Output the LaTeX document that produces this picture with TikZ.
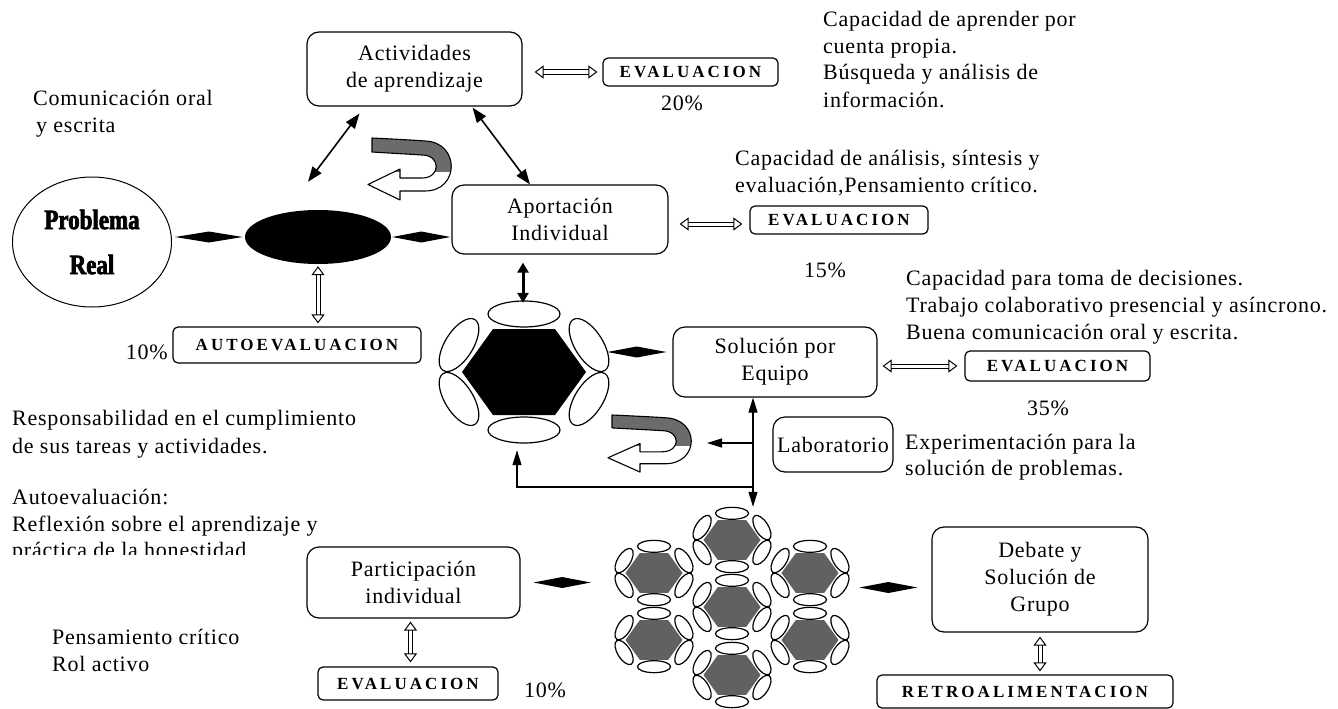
\documentclass[tikz,border=0pt]{standalone}
\usepackage{fontspec}
\setmainfont{Liberation Serif}[LetterSpace=3.5]
\newfontfamily\evalfam[LetterSpace=18]{Liberation Serif}
\newfontfamily\heavyfam[UprightFont={* Bold},FakeBold=2.5,FakeStretch=0.82]{Liberation Serif}
\usetikzlibrary{shapes.geometric,arrows.meta,calc}

\newcommand\txtfont{\fontsize{22}{27}\selectfont}
\newcommand\evfont{\evalfam\bfseries\fontsize{17}{20}\selectfont}
% outline of the curved U-turn arrow, local units, y pointing down
\newcommand\uturnpath{(0,0) .. controls (20,1) and (40,2) .. (53,3) .. controls (88,4) and (88,53) .. (53,53) -- (28,53) -- (28,62) -- (-4,46.5) -- (28,31) -- (28,40) -- (50,40) .. controls (69,40) and (69,17) .. (50,17) .. controls (35,16) and (15,15) .. (0,14) -- cycle}
% filled spindle joining two points on one horizontal line
\newcommand\diam[2]{\path #1 coordinate (dA) #2 coordinate (dB);
  \fill (dA) -- ($(dA)!.5!(dB)+(0,-5.5)$) -- (dB) -- ($(dA)!.5!(dB)+(0,5.5)$) -- cycle;}

\tikzset{
  team/.pic={
    \fill[#1] (-62,0) -- (-31,-43) -- (31,-43) -- (62,0) -- (31,43) -- (-31,43) -- cycle;
    \foreach \x/\y/\a/\rx/\ry in {0/-58/0/36/13, 0/58/0/36/13, -65/-27/58/30/14, 65/-27/-58/30/14, -65/27/-58/30/14, 65/27/58/30/14}
      \draw[line width=1.2pt, fill=white, rotate around={\a:(\x,\y)}] (\x,\y) ellipse [x radius=\rx, y radius=\ry];
  },
  uturn/.pic={
    \fill[white] \uturnpath;
    \begin{scope}
      \clip (-10,-10) rectangle (100,33);
      \fill[black!58] \uturnpath;
    \end{scope}
    \draw[line width=1.1pt, line join=round] \uturnpath;
  }
}

\begin{document}
\begin{tikzpicture}[x=1pt, y=-1pt,
  box/.style={draw, line width=1.2pt, rounded corners=12pt, align=center, inner sep=0pt, font=\txtfont},
  ebox/.style={draw, line width=1.2pt, rounded corners=5pt, inner sep=0pt, font=\evfont},
  note/.style={anchor=base west, inner sep=0pt, font=\txtfont},
  pct/.style={inner sep=0pt, font=\txtfont},
  spot/.style={inner sep=0pt},
  link/.style={line width=1.6pt, {Triangle[length=15pt,width=11pt]}-{Triangle[length=15pt,width=11pt]}},
  hollow/.style={double, double distance=3pt, line width=1pt, {Triangle[open,length=9pt,width=13pt]}-{Triangle[open,length=9pt,width=13pt]}},
  feed/.style={line width=1.2pt, -{Triangle[length=15pt,width=9pt]}}
]
\fill[white] (0,0) rectangle (1338,709);
\useasboundingbox (0,0) rectangle (1338,709);

% ---- main nodes ----
\node[ellipse, draw, line width=1pt, minimum width=159pt, minimum height=130pt, inner sep=0pt, align=center,
      font=\heavyfam\fontsize{28}{45}\selectfont] (pr) at (92,242) {Problema\\Real};
\node[ellipse, fill=black, minimum width=146pt, minimum height=54pt, inner sep=0pt] (alu) at (318,237) {};
\node[box, minimum width=215pt, minimum height=74pt] (act) at (414.5,69) {Actividades\\de aprendizaje};
\node[box, minimum width=216pt, minimum height=69pt] (apo) at (560,219.5) {Aportación\\Individual};
\node[box, minimum width=204pt, minimum height=70pt] (sol) at (775,362) {Solución por\\Equipo};
\node[box, minimum width=120pt, minimum height=55pt] (lab) at (833,444.5) {Laboratorio};
\node[box, minimum width=213pt, minimum height=71pt] (par) at (413.5,582.5) {Participación\\individual};
\node[box, minimum width=216pt, minimum height=105pt] (deb) at (1040,579.5) {Debate y\\Solución de\\Grupo};

\node[ebox, minimum width=175pt, minimum height=28pt] (ev1) at (690.5,72) {EVALUACION};
\node[ebox, minimum width=178pt, minimum height=28pt] (ev2) at (839,220) {EVALUACION};
\node[ebox, minimum width=185pt, minimum height=30pt] (ev3) at (1057.5,366) {EVALUACION};
\node[ebox, minimum width=248pt, minimum height=36pt] (auto) at (297,345) {AUTOEVALUACION};
\node[ebox, minimum width=180pt, minimum height=33pt] (ev4) at (408,683.5) {EVALUACION};
\node[ebox, minimum width=296pt, minimum height=33pt] (retro) at (1025,691.5) {RETROALIMENTACION};

% ---- teams ----
\node[spot, minimum width=172pt, minimum height=142pt] (team) at (524,372) {};
\pic at (team) {team=black};
\foreach \n/\x/\y in {c1/732/540, c2/732/607, c3/732/675, c4/654/573, c5/654/640, c6/810/573, c7/810/640} {
  \node[spot, minimum width=78pt, minimum height=66pt] (\n) at (\x,\y) {};
  \pic[scale=0.46] at (\n) {team=black!62};
}

% ---- percentages ----
\node[pct] (p20) at (682,103) {20\%};
\node[pct] (p15) at (825,270) {15\%};
\node[pct] (p35) at (1048,408) {35\%};
\node[pct, anchor=east] (p10a) at (168,352) {10\%};
\node[pct] (p10b) at (545,690) {10\%};

% ---- notes ----
\node[note] (n1a) at (33,105) {Comunicación oral};
\node[note] (n1b) at (36,132) {y escrita};
\node[note] (n2a) at (823,27) {Capacidad de aprender por};
\node[note] (n2b) at (823,54) {cuenta propia.};
\node[note] (n2c) at (823,80) {Búsqueda y análisis de};
\node[note] (n2d) at (823,107) {información.};
\node[note] (n3a) at (735,165) {Capacidad de análisis, síntesis y};
\node[note] (n3b) at (735,192) {evaluación,Pensamiento crítico.};
\node[note] (n4a) at (906,285) {Capacidad para toma de decisiones.};
\node[note] (n4b) at (906,312) {Trabajo colaborativo presencial y asíncrono.};
\node[note] (n4c) at (906,339) {Buena comunicación oral y escrita.};
\node[note] (n5a) at (12,425) {Responsabilidad en el cumplimiento};
\node[note] (n5b) at (12,453) {de sus tareas y actividades.};
\node[note] (n6a) at (905,449) {Experimentación para la};
\node[note] (n6b) at (905,475) {solución de problemas.};
\node[note] (n7a) at (12,504) {Autoevaluación:};
\node[note] (n7b) at (12,531) {Reflexión sobre el aprendizaje y};
\begin{scope}
  \clip (0,536) rectangle (400,554);
  \node[note] (n7c) at (12,557) {práctica de la honestidad};
\end{scope}
\node[note] (n8a) at (52,644) {Pensamiento crítico};
\node[note] (n8b) at (52,671) {Rol activo};

% ---- spindle connectors ----
\diam{($(pr.east|-alu.west)+(3,0)$)}{($(alu.west)+(-2,0)$)}
\diam{($(alu.east)+(1,0)$)}{($(alu.east-|apo.west)+(-1,0)$)}
\diam{($(team.east)+(-3,-20)$)}{($(team.east-|sol.west)+(-6,-20)$)}
\diam{($(par.east)+(13,0)$)}{($(par.east-|c4.west)+(-24,0)$)}
\diam{($(deb.west)+(-72,8)$)}{($(deb.west)+(-14,8)$)}

% ---- arrows ----
\draw[link] ($(alu.north)+(-10,-28)$) -- ($(act.south west)+(53,7)$);
\draw[link] ($(act.south)+(58,1)$) -- ($(apo.north)+(-30,0)$);
\draw[line width=3pt, {Triangle[length=10pt,width=11pt]}-{Triangle[length=10pt,width=11pt]}]
  ($(apo.south)+(-37,8)$) -- ($(apo.south|-team.north)+(-37,2)$);

\draw[hollow, shorten <=12pt, shorten >=5pt] (act.east|-ev1.west) -- (ev1.west);
\draw[hollow, shorten <=11pt, shorten >=7pt] ($(apo.east|-ev2.west)+(0,4)$) -- ($(ev2.west)+(0,4)$);
\draw[hollow, shorten <=5pt, shorten >=7pt] (sol.east|-ev3.west) -- (ev3.west);
\draw[hollow, shorten <=2pt, shorten >=3pt] (alu.south) -- (alu.south|-auto.north);
\draw[hollow, shorten <=3pt, shorten >=4pt] ($(par.south)+(-3,0)$) -- ($(par.south|-ev4.north)+(-3,0)$);
\draw[hollow, shorten <=4pt, shorten >=3pt] (deb.south) -- (deb.south|-retro.north);

\coordinate (j1) at (753,487);
\coordinate (j2) at (753,443);
\draw[feed] (j1) -- (j1|-sol.south);
\draw[feed] (j1) -- (j1|-c1.north);
\draw[feed] (j2) -- ++(-46,0);
\draw[feed] (j1) -| ($(team.south)+(-7,7)$);

% ---- curved turn arrows ----
\pic at (372,138) {uturn};
\pic[yscale=0.92] at (612,415) {uturn};
\end{tikzpicture}
\end{document}
